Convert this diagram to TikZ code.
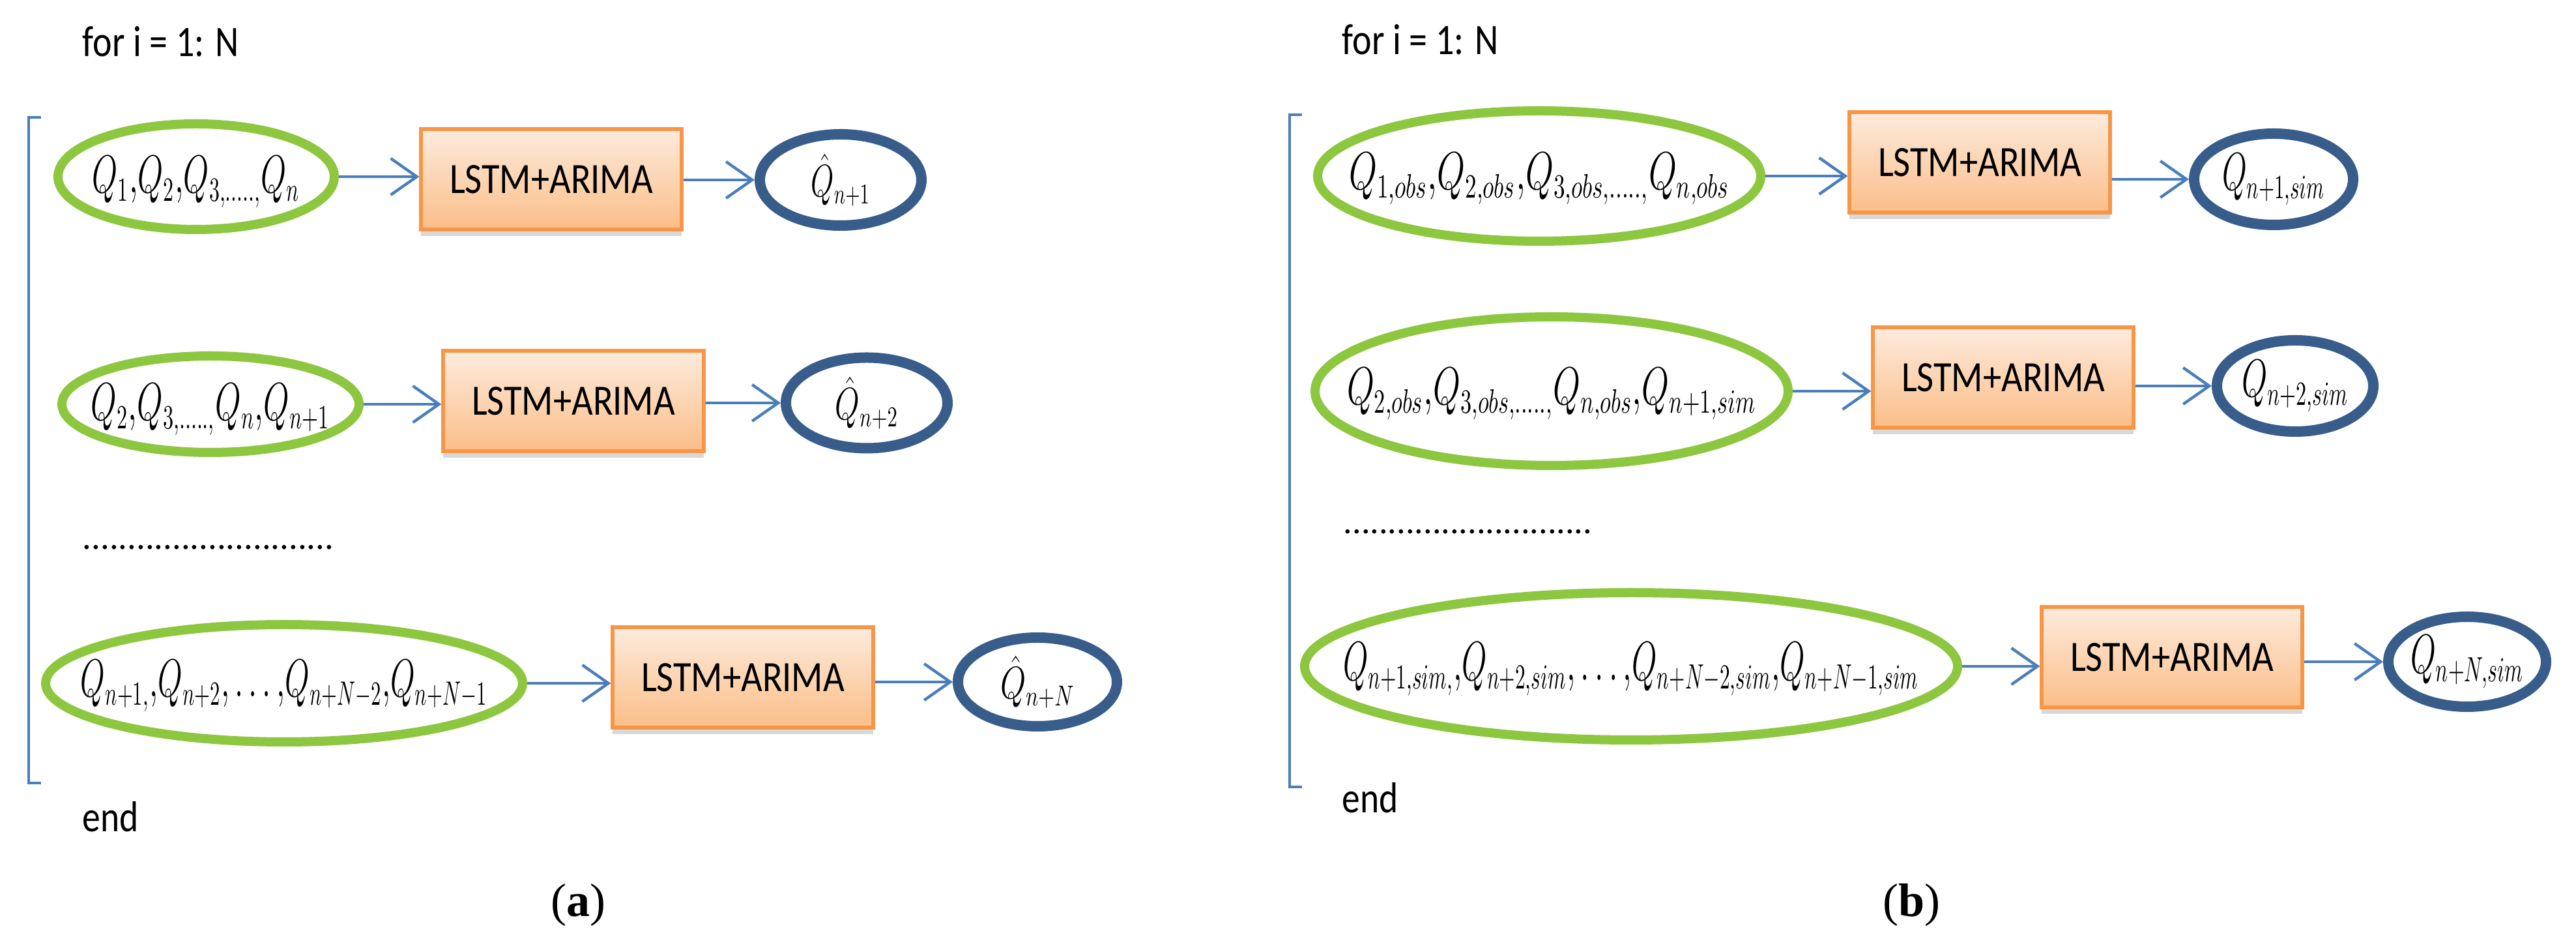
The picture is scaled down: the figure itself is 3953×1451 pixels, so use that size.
\documentclass[tikz,border=0pt]{standalone}
\usepackage{fontspec}
\setmainfont{Carlito}
\newfontfamily\capfont{Liberation Serif}
\usepackage{graphicx}
\usetikzlibrary{shapes.geometric,arrows.meta,shadows}
\definecolor{ggreen}{HTML}{8DC63F}
\definecolor{dblue}{HTML}{385D8A}
\definecolor{ablue}{HTML}{4A7EBB}
\definecolor{borange}{HTML}{F79646}
\definecolor{otop}{HTML}{FDEBDD}
\definecolor{obot}{HTML}{FBBE88}
% width, height (above baseline), font size, text
\newcommand\fitw[4]{\resizebox{#1pt}{#2pt}{\fontsize{#3}{#3}\selectfont #4}}
% width, height (above baseline), math
\newcommand\fitm[3]{\resizebox{#1pt}{#2pt}{\fontsize{16}{16}\selectfont $#3$}}
\tikzset{
  inell/.style={ellipse, draw=ggreen, line width=3.5pt, inner sep=0pt, fill=white},
  outell/.style={ellipse, draw=dblue, line width=4pt, inner sep=0pt, fill=white},
  model/.style={rectangle, draw=borange, line width=1.3pt, top color=otop, bottom color=obot,
    minimum width=100pt, minimum height=38.5pt, inner sep=0pt,
    drop shadow={shadow xshift=0pt, shadow yshift=-2.5pt, opacity=0.3}},
  arr/.style={draw=ablue, line width=1.1pt, -{Straight Barb[length=10pt,width=14pt,line width=1.1pt]}},
  brk/.style={draw=ablue, line width=1.1pt},
  lbl/.style={inner sep=0pt, anchor=base west},
  mtxt/.style={inner sep=0pt},
}
\newcommand\lstm{\fitw{78}{10.75}{16}{LSTM+ARIMA}}
\newcommand\dotrow[1]{\resizebox{#1pt}{!}{\fontsize{15.5}{15.5}\selectfont ............................}}
\begin{document}
\begin{tikzpicture}[x=0.25pt, y=-0.25pt]
\fill[white] (0,0) rectangle (3953,1451);
\useasboundingbox (0,0) rectangle (3953,1451);

% ---------------- panel (a) ----------------
\node[lbl] (forA) at (126,87) {\fitw{60}{11.5}{15.5}{for i = 1: N}};
\coordinate (brAt) at (63,180);
\coordinate (brAb) at (63,1201);
\draw[brk] (brAt) -- ++(-19,0) |- (brAb);

\node[inell, minimum width=106pt, minimum height=40.5pt] (a1e) at (301,271) {};
\node[mtxt] (a1t) at ([yshift=-2pt]a1e.center) {\fitm{79.75}{14}{Q_1{,}Q_2{,}Q_{3,.....,}Q_n}};
\node[model] (a1b) at (846,275) {\lstm};
\node[outell, minimum width=62pt, minimum height=35pt] (a1c) at (1290,276) {};
\node[mtxt] (a1ct) at (a1c.center) {\fitm{22.75}{16.5}{\hat{Q}_{n+1}}};
\draw[arr] (a1e.east) -- (a1e.east -| a1b.west);
\draw[arr] (a1b.east |- a1c.west) -- (a1c.west);

\node[inell, minimum width=114pt, minimum height=37pt] (a2e) at (323,620) {};
\node[mtxt] (a2t) at ([yshift=-2pt]a2e.center) {\fitm{91.75}{14}{Q_2{,}Q_{3,.....,}Q_n{,}Q_{n+1}}};
\node[model] (a2b) at (880,615) {\lstm};
\node[outell, minimum width=62pt, minimum height=34.75pt] (a2c) at (1330,618) {};
\node[mtxt] (a2ct) at (a2c.center) {\fitm{24.25}{16.5}{\hat{Q}_{n+2}}};
\draw[arr] (a2e.east) -- (a2e.east -| a2b.west);
\draw[arr] (a2b.east |- a2c.west) -- (a2c.west);

\node[lbl] (dotsA) at (126,843) {\dotrow{96.5}};

\node[inell, minimum width=183pt, minimum height=45pt] (a3e) at (436,1048) {};
\node[mtxt] (a3t) at ([yshift=-1pt]a3e.center) {\fitm{156}{14}{Q_{n+1,}{,}Q_{n+2}{,}\ldots{,}Q_{n+N-2}{,}Q_{n+N-1}}};
\node[model] (a3b) at (1140,1039) {\lstm};
\node[outell, minimum width=61pt, minimum height=34pt] (a3c) at (1592,1046) {};
\node[mtxt] (a3ct) at (a3c.center) {\fitm{28.5}{16.5}{\hat{Q}_{n+N}}};
\draw[arr] (a3e.east) -- (a3e.east -| a3b.west);
\draw[arr] (a3b.east |- a3c.west) -- (a3c.west);

\node[lbl] (endA) at (126,1276) {\fitw{21.5}{11.5}{15.5}{end}};
\node (capA) at (887,1388) {\capfont\fontsize{18}{18}\selectfont (\textbf{a})};

% ---------------- panel (b) ----------------
\node[lbl] (forB) at (2059,84) {\fitw{60}{11.5}{15.5}{for i = 1: N}};
\coordinate (brBt) at (1998,176);
\coordinate (brBb) at (1998,1207);
\draw[brk] (brBt) -- ++(-19,0) |- (brBb);

\node[inell, minimum width=170pt, minimum height=50pt] (b1e) at (2362,270) {};
\node[mtxt] (b1t) at ([yshift=-1pt]b1e.center) {\fitm{146}{14}{Q_{1,obs}{,}Q_{2,obs}{,}Q_{3,obs,.....,}Q_{n,obs}}};
\node[model] (b1b) at (3038,249) {\lstm};
\node[outell, minimum width=61pt, minimum height=35pt] (b1c) at (3489,275) {};
\node[mtxt] (b1ct) at (b1c.center) {\fitm{39.5}{14}{Q_{n+1,sim}}};
\draw[arr] (b1e.east) -- (b1e.east -| b1b.west);
\draw[arr] (b1b.east |- b1c.west) -- (b1c.west);

\node[inell, minimum width=181.5pt, minimum height=57pt] (b2e) at (2381,600) {};
\node[mtxt] (b2t) at ([yshift=-1pt]b2e.center) {\fitm{157}{14}{Q_{2,obs}{,}Q_{3,obs,.....,}Q_{n,obs}{,}Q_{n+1,sim}}};
\node[model] (b2b) at (3074,579) {\lstm};
\node[outell, minimum width=60pt, minimum height=35pt] (b2c) at (3522,592) {};
\node[mtxt] (b2ct) at (b2c.center) {\fitm{41}{14}{Q_{n+2,sim}}};
\draw[arr] (b2e.east) -- (b2e.east -| b2b.west);
\draw[arr] (b2b.east |- b2c.west) -- (b2c.west);

\node[lbl] (dotsB) at (2061,819) {\dotrow{95.5}};

\node[inell, minimum width=250.5pt, minimum height=56.5pt] (b3e) at (2503,1022) {};
\node[mtxt] (b3t) at ([yshift=-1pt]b3e.center) {\fitm{221}{14.5}{Q_{n+1,sim,}{,}Q_{n+2,sim}{,}\ldots{,}Q_{n+N-2,sim}{,}Q_{n+N-1,sim}}};
\node[model] (b3b) at (3333,1008) {\lstm};
\node[outell, minimum width=60.5pt, minimum height=34.5pt] (b3c) at (3786,1015) {};
\node[mtxt] (b3ct) at (b3c.center) {\fitm{43.5}{14.5}{Q_{n+N,sim}}};
\draw[arr] (b3e.east) -- (b3e.east -| b3b.west);
\draw[arr] (b3b.east |- b3c.west) -- (b3c.west);

\node[lbl] (endB) at (2059,1247) {\fitw{21.5}{11.5}{15.5}{end}};
\node (capB) at (2933,1388) {\capfont\fontsize{18}{18}\selectfont (\textbf{b})};
\end{tikzpicture}
\end{document}
